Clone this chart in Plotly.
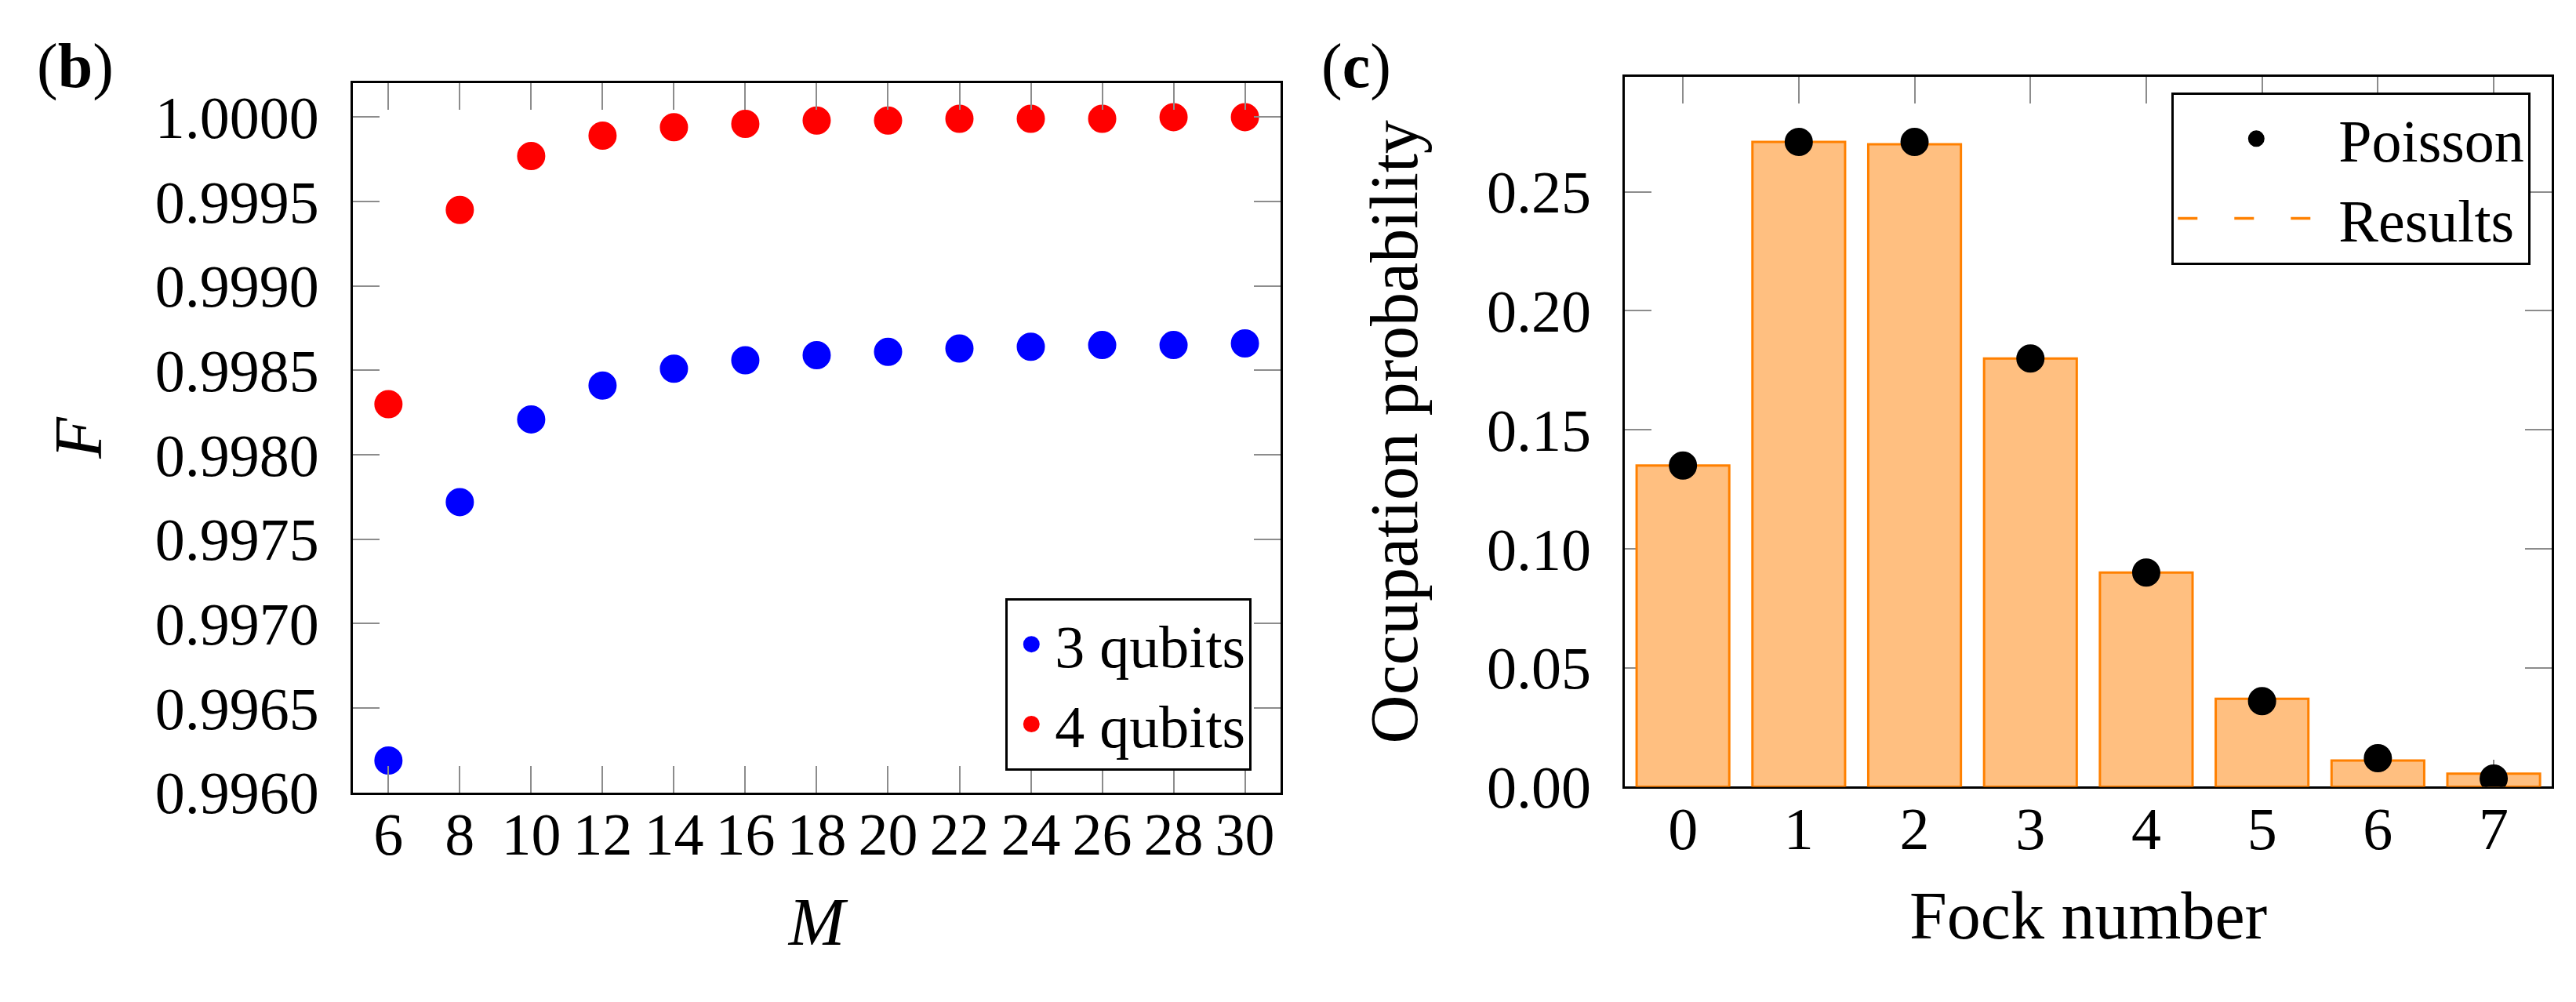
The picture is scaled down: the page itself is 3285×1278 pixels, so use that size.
# %% Import libraries.
import plotly.graph_objects as go

# %% Data.
# Panel (b): fidelity F against truncation M.
m_values = [6, 8, 10, 12, 14, 16, 18, 20, 22, 24, 26, 28, 30]
f_3_qubits = [0.99619, 0.99772, 0.99821, 0.99841, 0.99851, 0.99856, 0.99859,
              0.99861, 0.99863, 0.99864, 0.99865, 0.99865, 0.99866]
f_4_qubits = [0.99830, 0.99945, 0.99977, 0.99989, 0.99994, 0.99996, 0.99998,
              0.99998, 0.99999, 0.99999, 0.99999, 1.00000, 1.00000]
m_ticks = list(range(6, 31, 2))
f_ticks = [0.9960, 0.9965, 0.9970, 0.9975, 0.9980, 0.9985, 0.9990, 0.9995, 1.0000]

# Panel (c): occupation probability against Fock number.
fock_number = [0, 1, 2, 3, 4, 5, 6, 7]
results = [0.135, 0.271, 0.270, 0.180, 0.090, 0.037, 0.011, 0.0055]
poisson = [0.135, 0.271, 0.271, 0.180, 0.090, 0.036, 0.012, 0.0034]
prob_ticks = [0.00, 0.05, 0.10, 0.15, 0.20, 0.25]

# %% Styling.
FONT = "Liberation Serif"
TICK_SIZE = 76
TITLE_SIZE = 86


def dot(color):
    # marker + same-coloured outline, so the (size-capped) legend symbol grows a bit too
    return dict(size=31, color=color, line=dict(width=5, color=color))


fig = go.Figure()

fig.add_trace(go.Scatter(x=m_values, y=f_3_qubits, mode="markers", name="3 qubits",
                         marker=dot("#0000ff"), xaxis="x", yaxis="y", legend="legend"))
fig.add_trace(go.Scatter(x=m_values, y=f_4_qubits, mode="markers", name="4 qubits",
                         marker=dot("#ff0000"), xaxis="x", yaxis="y", legend="legend"))

fig.add_trace(go.Bar(x=fock_number, y=results, width=0.8, name="Results", showlegend=False,
                     marker=dict(color="#ffbf80", line=dict(color="#ff8000", width=3)),
                     xaxis="x2", yaxis="y2"))
fig.add_trace(go.Scatter(x=fock_number, y=poisson, mode="markers", name="Poisson",
                         marker=dot("black"), xaxis="x2", yaxis="y2", legend="legend2"))
# legend key only: results are drawn as bars but keyed with a dashed line
fig.add_trace(go.Scatter(x=[None], y=[None], mode="lines", name="Results",
                         line=dict(color="#ff8000", width=3.5, dash="25px,47px"),
                         xaxis="x2", yaxis="y2", legend="legend2"))

axis_common = dict(
    showline=True, linecolor="black", linewidth=3, mirror="allticks",
    ticks="inside", ticklen=34, tickwidth=1.5, tickcolor="#8c8c8c",
    showgrid=False, zeroline=False,
    tickfont=dict(family=FONT, size=TICK_SIZE, color="black"),
)

fig.update_layout(
    width=3285, height=1278,
    margin=dict(l=0, r=0, t=0, b=0),
    paper_bgcolor="white", plot_bgcolor="white",
    font=dict(family=FONT, color="black"),
    xaxis=dict(axis_common, domain=[0.1345, 0.4947], range=[5, 31], anchor="y",
               tickvals=m_ticks, ticklabelstandoff=-15,
               title=dict(text="<i>M</i>", font=dict(size=TITLE_SIZE), standoff=40)),
    yaxis=dict(axis_common, domain=[0.188, 0.9204], range=[0.9960, 1.0002], anchor="x",
               tickvals=f_ticks, tickformat=".4f", ticklabelstandoff=25,
               title=dict(text="<i>F</i>", font=dict(size=TITLE_SIZE), standoff=40)),
    xaxis2=dict(axis_common, domain=[0.6284, 0.9881], range=[-0.5, 7.5], anchor="y2",
                tickvals=fock_number, ticklabelstandoff=-15, layer="below traces",
                title=dict(text="Fock number", font=dict(size=TITLE_SIZE), standoff=40)),
    yaxis2=dict(axis_common, domain=[0.194, 0.927], range=[0, 0.2983], anchor="x2",
                tickvals=prob_ticks, tickformat=".2f", ticklabelstandoff=25,
                layer="below traces",
                title=dict(text="Occupation probability", font=dict(size=TITLE_SIZE),
                           standoff=60)),
    legend=dict(x=0.4835, y=0.2107, xanchor="right", yanchor="bottom",
                bordercolor="black", borderwidth=3, bgcolor="white",
                itemwidth=50, tracegroupgap=0,
                font=dict(family=FONT, size=TICK_SIZE)),
    legend2=dict(x=0.980, y=0.911, xanchor="right", yanchor="top",
                 bordercolor="black", borderwidth=3, bgcolor="white",
                 itemwidth=200, traceorder="normal",
                 font=dict(family=FONT, size=TICK_SIZE)),
    annotations=[
        dict(text="(<b>b</b>)", x=0.0113, y=0.938, xref="paper", yref="paper",
             xanchor="left", yanchor="middle", showarrow=False,
             font=dict(family=FONT, size=80)),
        dict(text="(<b>c</b>)", x=0.5099, y=0.938, xref="paper", yref="paper",
             xanchor="left", yanchor="middle", showarrow=False,
             font=dict(family=FONT, size=80)),
    ],
)

fig.write_html("out.html")
